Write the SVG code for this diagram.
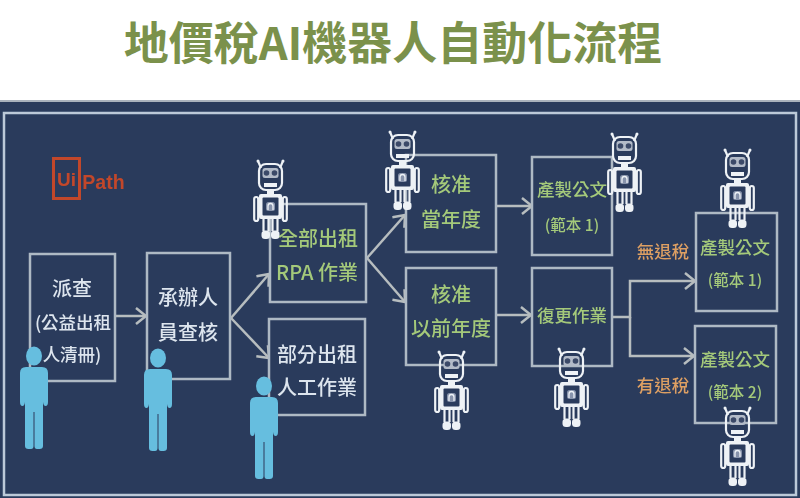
<svg xmlns="http://www.w3.org/2000/svg" width="800" height="498" viewBox="0 0 800 498">
<style>
text{font-family:"Noto Sans CJK TC","Noto Sans CJK SC",sans-serif;text-anchor:middle;font-weight:500}
.box{fill:#2a3b5c;stroke:#aeb9c4;stroke-width:2.5}
.w{fill:#dde5ee;font-size:20px}
.w2{fill:#dde5ee;font-size:17.500px}
.g{fill:#a4c97a;font-size:20px}
.g2{fill:#a4c97a;font-size:17.500px}
.g3{fill:#a4c97a;font-size:15.500px}
.o{fill:#dd9f63;font-size:17.500px}
.c{fill:none;stroke:#b7bdbf;stroke-width:2.5}
.rl{fill:none;stroke:#eef2f6;stroke-width:2.200}
.logo{font-family:"Liberation Sans",sans-serif;font-weight:700;fill:#c2472a}
</style>
<defs>
<filter id="soft" x="0" y="0" width="100%" height="100%"><feGaussianBlur stdDeviation="0.450"/></filter>
<marker id="a" viewBox="0 0 12 18" refX="11" refY="9" markerWidth="12" markerHeight="18" markerUnits="userSpaceOnUse" orient="auto">
<path d="M1 1L11 9L1 17" fill="none" stroke="#b7bdbf" stroke-width="2.500"/>
</marker>
<g id="robot">
<path class="rl" d="M8 9L5 2M27 9L30 2"/>
<circle cx="5" cy="2" r="1.500" fill="#eef2f6"/><circle cx="30" cy="2" r="1.500" fill="#eef2f6"/>
<rect class="rl" x="6" y="5" width="23" height="26" rx="7"/>
<rect x="9.500" y="9" width="16" height="10" rx="2.500" fill="#b3bbc8"/>
<circle cx="13.500" cy="14" r="2.800" fill="#3a4a68"/><circle cx="21.500" cy="14" r="2.800" fill="#3a4a68"/>
<path d="M11 24h13v4h-13z" fill="#eef2f6"/>
<path d="M14 31h7v4h-7z" fill="#eef2f6"/>
<rect x="6" y="35" width="23" height="25" rx="2" fill="#eef2f6"/>
<rect x="9.500" y="38.500" width="16" height="18" rx="1" fill="#2a3b5c"/>
<rect x="13" y="43" width="9" height="9" rx="2.500" fill="#8793ab"/>
<path d="M15 51v-4a2.500 2.500 0 0 1 5 0v4" fill="none" stroke="#eef2f6" stroke-width="1.300"/>
<rect class="rl" x="1.200" y="38" width="4" height="24" rx="2"/><rect class="rl" x="29.800" y="38" width="4" height="24" rx="2"/>
<path class="rl" d="M10.500 60V72M15.500 60V72M19.500 60V72M24.500 60V72"/>
<rect x="8.500" y="71.500" width="8.500" height="8.500" rx="3.500" fill="#eef2f6"/><rect x="18" y="71.500" width="8.500" height="8.500" rx="3.500" fill="#eef2f6"/>
</g>
<g id="person" fill="#66bedf">
<ellipse cx="14" cy="10" rx="8" ry="9.500"/>
<path d="M6 21H22Q28 21 28 27V56Q28 60 25.500 60Q23.500 60 23 56V100Q23 103 19.500 103H17Q14.500 103 14.500 100V66H13.500V100Q13.500 103 11 103H8.500Q5 103 5 100V56Q4.500 60 2.500 60Q0 60 0 56V27Q0 21 6 21Z"/>
</g>
</defs>
<rect width="800" height="498" fill="#ffffff"/>
<text id="title" x="393" y="60" style="font-size:45px;font-weight:700;fill:#7b914b">地價稅AI機器人自動化流程</text>
<g filter="url(#soft)">
<rect y="100" width="800" height="398" fill="#2a3b5c"/>
<rect y="100" width="800" height="2" fill="#aab2bd"/>
<rect x="4" y="113" width="792" height="382" fill="none" stroke="#bcc9d8" stroke-width="2.500"/>
<g id="logo">
<rect x="53.500" y="158.500" width="26" height="40" fill="none" stroke="#c2472a" stroke-width="3"/>
<text class="logo" x="66.500" y="186" style="font-size:19px">Ui</text>
<text class="logo" x="103.500" y="189" style="font-size:19.500px">Path</text>
</g>
<g id="connectors">
<path class="c" marker-end="url(#a)" d="M115 316H146"/>
<path class="c" marker-end="url(#a)" d="M231 318L269 274"/>
<path class="c" marker-end="url(#a)" d="M231 318L269 358"/>
<path class="c" marker-end="url(#a)" d="M367 258L405 215"/>
<path class="c" marker-end="url(#a)" d="M367 258L405 302"/>
<path class="c" marker-end="url(#a)" d="M496 206H532"/>
<path class="c" marker-end="url(#a)" d="M496 315H531"/>
<path class="c" marker-end="url(#a)" d="M612 317H630V281H695"/>
<path class="c" marker-end="url(#a)" d="M630 317V356H694"/>
</g>
<g id="n1"><rect class="box" x="30" y="254" width="85" height="127"/>
<text class="w" x="72" y="296">派查</text><text class="w2" x="73" y="329">(公益出租</text><text class="w2" x="72" y="361">人清冊)</text></g>
<g id="n2"><rect class="box" x="147" y="253" width="83" height="126"/>
<text class="w" x="188" y="305">承辦人</text><text class="w" x="188" y="340">員查核</text></g>
<g id="n3"><rect class="box" x="270" y="204" width="96" height="98"/>
<text class="g" x="318" y="246">全部出租</text><text class="g" x="317" y="280">RPA 作業</text></g>
<g id="n4"><rect class="box" x="269" y="319" width="96" height="96"/>
<text class="w" x="317" y="362">部分出租</text><text class="w" x="317" y="395">人工作業</text></g>
<g id="n5"><rect class="box" x="406" y="155" width="90" height="97"/>
<text class="g" x="451" y="192">核准</text><text class="g" x="451" y="227">當年度</text></g>
<g id="n6"><rect class="box" x="406" y="268" width="90" height="97"/>
<text class="g" x="451" y="302">核准</text><text class="g" x="451" y="336">以前年度</text></g>
<g id="n7"><rect class="box" x="532" y="157" width="80" height="98"/>
<text class="g2" x="572" y="196">產製公文</text><text class="g3" x="572" y="231">(範本 1)</text></g>
<g id="n8"><rect class="box" x="532" y="268" width="80" height="98"/>
<text class="g2" x="572" y="322">復更作業</text></g>
<g id="n9"><rect class="box" x="696" y="213" width="81" height="98"/>
<text class="g2" x="735" y="254">產製公文</text><text class="g3" x="735" y="286">(範本 1)</text></g>
<g id="n10"><rect class="box" x="695" y="326" width="81" height="97"/>
<text class="g2" x="735" y="366">產製公文</text><text class="g3" x="735" y="398">(範本 2)</text></g>
<g id="labels"><text class="o" x="663" y="258">無退稅</text><text class="o" x="663" y="392">有退稅</text></g>
<g id="robots">
<use href="#robot" x="253" y="159"/><use href="#robot" x="385" y="130"/><use href="#robot" x="607" y="132"/><use href="#robot" x="720" y="148"/><use href="#robot" x="434" y="350"/><use href="#robot" x="554" y="347"/><use href="#robot" x="720" y="406"/>
</g>
<g id="people">
<use href="#person" x="20" y="346"/><use href="#person" x="144" y="348"/><use href="#person" x="250" y="376"/>
</g>
</g>
</svg>
